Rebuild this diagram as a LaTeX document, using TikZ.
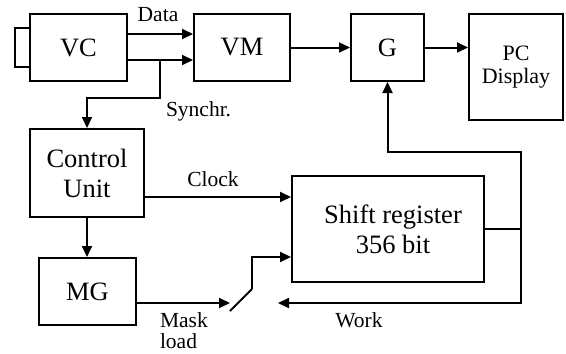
\documentclass[tikz,border=0pt]{standalone}
\usepackage{fontspec}
\setmainfont{Liberation Serif}
\usetikzlibrary{arrows.meta}
\begin{document}
\begin{tikzpicture}[x=1pt,y=-1pt,
  line width=2pt,
  blk/.style={draw, line width=2pt, inner sep=0pt, align=center,
              font=\fontsize{26.5}{30}\selectfont},
  lbl/.style={font=\fontsize{21.5}{23}\selectfont, inner sep=0pt},
  arr/.style={-{Triangle[length=11pt,width=10pt]}},
]
\useasboundingbox[fill=white] (0,0) rectangle (566,354);

% blocks
\node[draw, line width=2pt, minimum width=15pt, minimum height=39pt, inner sep=0pt] (lens) at (22.5,47.5) {};
\node[blk, minimum width=97pt, minimum height=67pt] (vc) at (78.5,47.5) {VC};
\node[blk, minimum width=96pt, minimum height=67pt] (vm) at (242,47.5) {VM};
\node[blk, minimum width=73pt, minimum height=67pt] (g) at (387.5,47.5) {G};
\node[blk, minimum width=94pt, minimum height=106pt, font=\fontsize{22}{23}\selectfont] (pc) at (516,67) {PC\\Display};
\node[blk, minimum width=114pt, minimum height=88pt] (cu) at (87,173) {Control\\Unit};
\node[blk, minimum width=97pt, minimum height=67pt] (mg) at (87.5,291.5) {MG};
\node[blk, minimum width=192pt, minimum height=106pt] (sr) at (388,229) {};
\node[font=\fontsize{26.5}{30}\selectfont, align=center, inner sep=0pt] (srtxt) at (393,229) {Shift register\\356 bit};

% video path
\draw[arr] ([yshift=13.5pt]vc.east) -- ([yshift=13.5pt]vm.west);
\draw[arr] ([yshift=-12.5pt]vc.east) -- ([yshift=-12.5pt]vm.west);
\coordinate (sj) at (160,60);
\coordinate (sk) at (160,98);
\draw[arr] (sj) -- (sk) -| (cu.north);
\draw[arr] (vm.east) -- (g.west);
\draw[arr] (g.east) -- (g.east -| pc.west);

% register loop
\coordinate (fr) at (521,229);
\coordinate (ft) at (521,152);
\coordinate (fb) at (521,303);
\coordinate (wk) at (278,303);
\draw (sr.east) -- (fr);
\draw[arr] (fr) -- (ft) -| (g.south);
\draw[arr] (fr) -- (fb) -- (wk);

% control
\coordinate (ck) at ([yshift=-24pt]cu.east);
\draw[arr] (ck) -- (ck -| sr.west);
\draw[arr] (cu.south) -- (cu.south |- mg.north);

% mask load switch
\coordinate (mo) at ([yshift=-11.5pt]mg.east);
\coordinate (swa) at (230,311);
\coordinate (swb) at (252,289);
\coordinate (srin) at ([yshift=-28pt]sr.west);
\draw[arr] (mo) -- (mo -| swa);
\draw (swa) -- (swb);
\draw[arr] (swb) |- (srin);

% labels
\node[lbl, anchor=base] (tdata) at (158,21) {Data};
\node[lbl, anchor=base west] (tsync) at (165,116) {Synchr.};
\node[lbl, anchor=base] (tclock) at (213,186) {Clock};
\node[lbl, anchor=base west] (tmask) at (159,327) {Mask};
\node[lbl, anchor=base west] (tload) at (159,348) {load};
\node[lbl, anchor=base] (twork) at (359,327) {Work};
\end{tikzpicture}
\end{document}
